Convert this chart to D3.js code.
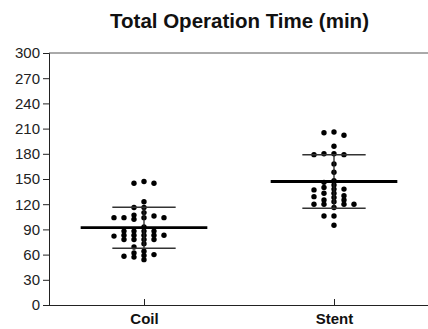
<!DOCTYPE html>
<html>
<head>
<meta charset="utf-8">
<script src="https://cdn.jsdelivr.net/npm/d3@7"></script>
<style>
    body { margin: 0; background: #fff; }
    text { font-family: "Liberation Sans", Arial, sans-serif; }
</style>
</head>
<body>
<svg id="chart"></svg>
<script>
// values (minutes)
const groups = ['Coil', 'Stent']
const coilValues = [147, 145, 145, 123, 116, 116, 110, 107, 104, 104, 104, 102, 106, 104, 93,
    88, 88, 88, 88, 83, 83, 83, 83, 82, 83, 78, 78, 78, 78, 73, 69, 64, 62, 60, 59, 58, 57, 54]
const stentValues = [205, 206, 202, 189, 180, 180, 179, 179, 168, 158, 148, 143, 146, 140, 138,
    137, 138, 133, 133, 129, 125, 125, 128, 130, 123, 120, 120, 120, 120, 116, 106, 106, 95]
const groupMeans = [92, 147]
const groupSds = [24.5, 31.8]
const yTicks = [0, 30, 60, 90, 120, 150, 180, 210, 240, 270, 300]

const width = 428, height = 329
const margin = { top: 53, right: 0, bottom: 24, left: 49 }
const RADIUS = 2.7

const svg = d3.select('#chart')
    .attr('width', width)
    .attr('height', height)

const x = d3.scalePoint()
    .domain(groups)
    .range([margin.left, width + 1])
    .padding(0.5)

const y = d3.scaleLinear()
    .domain([0, 300])
    .range([height - margin.bottom, margin.top])

const step = x.step()

// simple prism-like swarm: slots of 5px, a slot is taken if a dot is close in both x and y
const swarm = (values, cx) => {
    const placed = []
    const sorted = values.slice().sort((a, b) => b - a)
    const offsets = [0]
    for (let k = 1; k < 20; k++) offsets.push(-k * 5, k * 5)
    sorted.forEach(v => {
        const py = y(v)
        for (const off of offsets) {
            const px = cx + off
            const hit = placed.some(p => Math.abs(p.x - px) < 9 && Math.abs(p.y - py) < 4)
            if (!hit) { placed.push({ x: px, y: py }); break }
        }
    })
    return placed
}

// title
svg.append('text')
    .attr('x', 239.5)
    .attr('y', 28)
    .attr('text-anchor', 'middle')
    .style('font-size', '20.5px')
    .style('font-weight', 'bold')
    .style('fill', '#111')
    .text('Total Operation Time (min)')

// top frame line
svg.append('line')
    .attr('x1', margin.left).attr('x2', width)
    .attr('y1', y(300)).attr('y2', y(300))
    .attr('stroke', '#555')
    .attr('stroke-width', 1)

// y axis
const yAxis = svg.append('g')
    .attr('transform', `translate(${margin.left},0)`)
    .call(d3.axisLeft(y).tickValues(yTicks).tickSize(6).tickPadding(3))
yAxis.attr('font-family', null)
yAxis.select('.domain').attr('stroke', '#222')
yAxis.selectAll('.tick line').attr('stroke', '#222')
yAxis.selectAll('.tick text')
    .style('font-size', '15px')
    .style('fill', '#222')

// x axis
const xAxis = svg.append('g')
    .attr('transform', `translate(0,${y(0)})`)
    .call(d3.axisBottom(x).tickSizeInner(-6).tickSizeOuter(0).tickPadding(8))
xAxis.attr('font-family', null)
xAxis.select('.domain').attr('d', `M${margin.left},0.5H${width}`).attr('stroke', '#222')
xAxis.selectAll('.tick line').attr('stroke', '#222')
xAxis.selectAll('.tick text')
    .style('font-size', '15px')
    .style('font-weight', 'bold')
    .style('fill', '#111')

// dots
const plot = svg.append('g')
;[coilValues, stentValues].forEach((values, i) => {
    plot.append('g')
        .selectAll('circle')
        .data(swarm(values, x(groups[i])))
        .enter().append('circle')
        .attr('cx', d => d.x)
        .attr('cy', d => d.y)
        .attr('r', RADIUS)
        .attr('fill', '#000')
})

// mean and SD bars
groups.forEach((g, i) => {
    const cx = x(g)
    const m = groupMeans[i], sd = groupSds[i]
    const bars = svg.append('g')
    bars.append('line')
        .attr('x1', cx).attr('x2', cx)
        .attr('y1', y(m - sd)).attr('y2', y(m + sd))
        .attr('stroke', '#222').attr('stroke-width', 1.3)
    ;[m - sd, m + sd].forEach(v => {
        bars.append('line')
            .attr('x1', cx - step / 6).attr('x2', cx + step / 6)
            .attr('y1', y(v)).attr('y2', y(v))
            .attr('stroke', '#333').attr('stroke-width', 1.5)
    })
    bars.append('line')
        .attr('x1', cx - step / 3).attr('x2', cx + step / 3)
        .attr('y1', y(m)).attr('y2', y(m))
        .attr('stroke', '#000').attr('stroke-width', 2.8)
})
</script>
</body>
</html>
